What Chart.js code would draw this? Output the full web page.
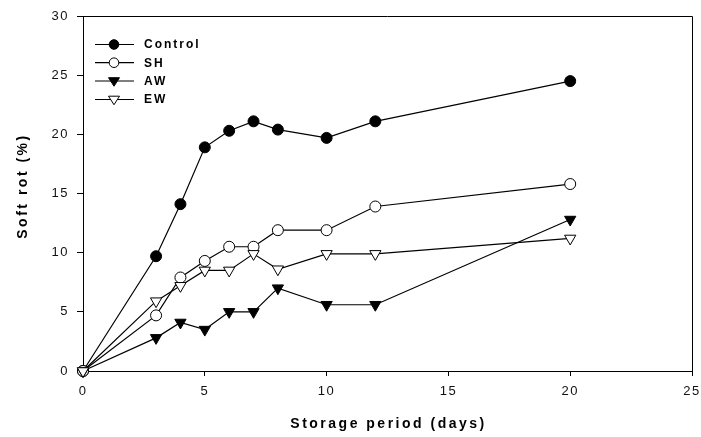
<!DOCTYPE html>
<html>
<head>
<meta charset="utf-8">
<script src="https://cdn.jsdelivr.net/npm/chart.js@4.4.1/dist/chart.umd.min.js"></script>
<style>
html,body{margin:0;padding:0;background:#fff;}
#wrap{width:701px;height:437px;position:relative;}
</style>
</head>
<body>
<div id="wrap"><canvas id="c" width="701" height="437"></canvas></div>
<script>
const days = [0, 3, 4, 5, 6, 7, 8, 10, 12, 20];
const control = [0, 9.7, 14.1, 18.9, 20.3, 21.1, 20.4, 19.7, 21.1, 24.5];
const sh = [0, 4.7, 7.9, 9.3, 10.5, 10.5, 11.9, 11.9, 13.9, 15.8];
const aw = [0, 2.8, 4.1, 3.5, 5.0, 5.0, 7.0, 5.6, 5.6, 12.8];
const ew = [0, 5.9, 7.2, 8.5, 8.5, 9.9, 8.6, 9.9, 9.9, 11.2];
const seriesNames = ['Control', 'SH', 'AW', 'EW'];
const xTitle = 'Storage period (days)';
const yTitle = 'Soft rot (%)';

const FONT = "'Liberation Sans', Arial, sans-serif";
const pts = arr => days.map((d, i) => ({x: d, y: arr[i]}));

const styles = [
  {pointStyle: 'circle', bg: '#000', r: 5.5, rot: 0},
  {pointStyle: 'circle', bg: '#fff', r: 5.5, rot: 0},
  {pointStyle: 'triangle', bg: '#000', r: 6.5, rot: 180},
  {pointStyle: 'triangle', bg: '#fff', r: 6.5, rot: 180}
];
const allData = [control, sh, aw, ew];

const datasets = allData.map((arr, i) => ({
  label: seriesNames[i],
  data: pts(arr),
  borderColor: '#000',
  borderWidth: 1.2,
  pointStyle: styles[i].pointStyle,
  pointRotation: styles[i].rot,
  pointRadius: styles[i].r,
  pointBackgroundColor: styles[i].bg,
  pointBorderColor: '#000',
  pointBorderWidth: 1,
  tension: 0,
  clip: false
})).reverse();

const decor = {
  id: 'decor',
  beforeDraw(chart) {
    chart.ctx.letterSpacing = '1.5px';
  },
  beforeDatasetsDraw(chart) {
    chart.ctx.letterSpacing = '0px';
  },
  afterDraw(chart) {
    const ctx = chart.ctx;
    const a = chart.chartArea;
    ctx.save();
    ctx.strokeStyle = '#000';
    ctx.lineWidth = 1;
    ctx.beginPath();
    ctx.moveTo(a.left, a.top + 0.5);
    ctx.lineTo(a.right + 0.5, a.top + 0.5);
    ctx.lineTo(a.right + 0.5, a.bottom);
    ctx.stroke();
    ctx.fillStyle = '#000';
    ctx.font = 'bold 14px ' + FONT;
    ctx.letterSpacing = '2.5px';
    ctx.textAlign = 'center';
    ctx.textBaseline = 'alphabetic';
    ctx.fillText(xTitle, (a.left + a.right) / 2 + 1, 428);
    ctx.save();
    ctx.translate(27, 186);
    ctx.rotate(-Math.PI / 2);
    ctx.fillText(yTitle, 0, 0);
    ctx.restore();
    ctx.font = 'bold 12px ' + FONT;
    ctx.letterSpacing = '2px';
    ctx.textAlign = 'left';
    ctx.textBaseline = 'middle';
    const rows = [44.5, 62.7, 81, 99.5];
    seriesNames.forEach((name, i) => {
      const y = rows[i];
      ctx.strokeStyle = '#000';
      ctx.lineWidth = 1.2;
      ctx.beginPath();
      ctx.moveTo(95, y);
      ctx.lineTo(134, y);
      ctx.stroke();
      const st = styles[i];
      ctx.fillStyle = st.bg;
      ctx.lineWidth = 1;
      ctx.beginPath();
      if (st.pointStyle === 'circle') {
        ctx.arc(114, y, 4.8, 0, Math.PI * 2);
      } else {
        const r = 5.5;
        ctx.moveTo(114 - r, y - r * 0.6);
        ctx.lineTo(114 + r, y - r * 0.6);
        ctx.lineTo(114, y + r * 0.95);
        ctx.closePath();
      }
      ctx.fill();
      ctx.stroke();
      ctx.fillStyle = '#000';
      ctx.fillText(name, 144, y + 0.5);
    });
    ctx.restore();
  }
};

new Chart(document.getElementById('c'), {
  type: 'line',
  data: {datasets},
  options: {
    responsive: false,
    animation: false,
    events: [],
    layout: {padding: {top: 16, right: 9, left: 0, bottom: 0}},
    plugins: {legend: {display: false}, tooltip: {enabled: false}, title: {display: false}},
    scales: {
      x: {
        type: 'linear', min: 0, max: 25,
        afterFit(s) { s.height = 66; s.paddingLeft = 0; s.paddingRight = 0; },
        ticks: {stepSize: 5, color: '#111', font: {family: FONT, size: 13}, padding: 8, maxRotation: 0},
        grid: {drawOnChartArea: false, drawTicks: true, tickLength: 5, color: '#000', lineWidth: 1},
        border: {display: true, color: '#000', width: 1}
      },
      y: {
        type: 'linear', min: 0, max: 30,
        afterFit(s) { s.width = 83; s.paddingTop = 0; s.paddingBottom = 0; },
        ticks: {stepSize: 5, color: '#111', font: {family: FONT, size: 13}, padding: 8},
        grid: {drawOnChartArea: false, drawTicks: true, tickLength: 6, color: '#000', lineWidth: 1},
        border: {display: true, color: '#000', width: 1}
      }
    }
  },
  plugins: [decor]
});
</script>
</body>
</html>
